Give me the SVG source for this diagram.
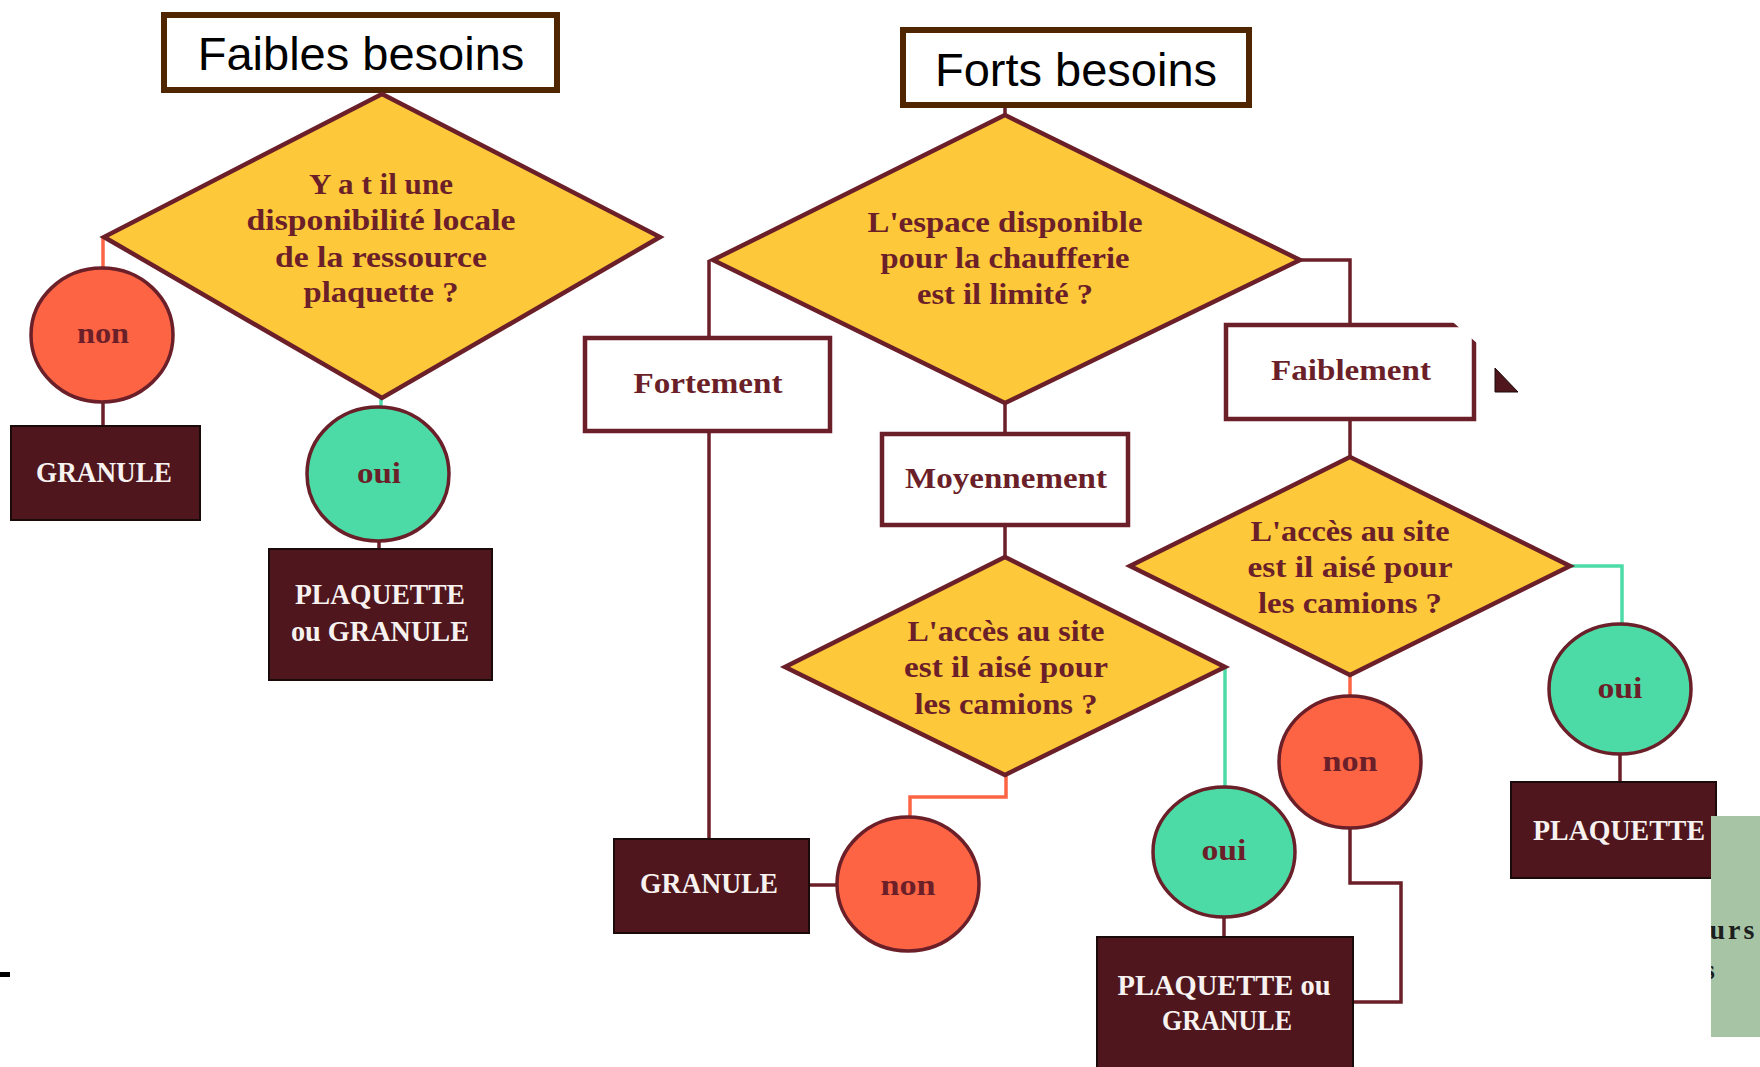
<svg xmlns="http://www.w3.org/2000/svg" width="1760" height="1067" viewBox="0 0 1760 1067">
<style>
.dia{fill:#fdc83a;stroke:#6b1f29;stroke-width:4.5;stroke-linejoin:miter}
.lbl{fill:#fff;stroke:#6b1f29;stroke-width:4.5}
.res{fill:#4f161d;stroke:#1a0a0a;stroke-width:2}
.non{fill:#fd6444;stroke:#6b1f29;stroke-width:3.5}
.oui{fill:#4cdba6;stroke:#6b1f29;stroke-width:3.5}
.hdr{fill:#fff;stroke:#4f2600;stroke-width:6}
.t{font-family:"Liberation Serif","Times New Roman",serif;font-weight:bold;font-size:29px;fill:#6b1f29;text-anchor:middle}
.l{font-size:30px}
.w{fill:#f7f2f0;font-size:30px}
.h{font-family:"Liberation Sans",Arial,sans-serif;font-size:47px;fill:#000;text-anchor:middle}
.c{fill:none;stroke:#6b1f29;stroke-width:3.5}
.co{stroke:#fd6444}
.cg{stroke:#4cdba6}
</style>
<defs>
<clipPath id="gclip"><rect x="1711" y="816" width="60" height="221"/></clipPath>
</defs>
<rect width="1760" height="1067" fill="#fff"/>

<g id="connectors">
<path class="c" d="M1005 108 V115"/>
<path class="c co" d="M103 237 V268"/>
<path class="c cg" d="M381 398 V407"/>
<path class="c" d="M103 402 V426"/>
<path class="c" d="M379 541 V549"/>
<path class="c" d="M709 260 V338"/>
<path class="c" d="M709 433 V839"/>
<path class="c" d="M1005 403 V434"/>
<path class="c" d="M1005 527 V557"/>
<path class="c" d="M1300 260 H1350 V325"/>
<path class="c" d="M1350 421 V457"/>
<path class="c co" d="M1006 775 V797 H910 V817"/>
<path class="c cg" d="M1225 667 V787"/>
<path class="c" d="M809 885 H837"/>
<path class="c" d="M1224 917 V937"/>
<path class="c cg" d="M1570 566 H1622 V624"/>
<path class="c co" d="M1350 675 V696"/>
<path class="c" d="M1620 754 V782"/>
<path class="c" d="M1350 828 V883 H1401 V1002 H1353"/>
</g>

<g id="faibles-besoins">
<rect class="hdr" x="164" y="15" width="393" height="75"/>
<text class="h" x="361" y="70">Faibles besoins</text>
</g>
<g id="forts-besoins">
<rect class="hdr" x="903" y="30" width="346" height="75"/>
<text class="h" x="1076" y="86">Forts besoins</text>
</g>

<g id="q-ressource">
<polygon class="dia" points="382,94 660,237 382,398 104,237"/>
<text class="t" x="381" y="194" textLength="144" lengthAdjust="spacingAndGlyphs">Y a t il une</text>
<text class="t" x="381" y="230" textLength="269" lengthAdjust="spacingAndGlyphs">disponibilité locale</text>
<text class="t" x="381" y="267" textLength="212" lengthAdjust="spacingAndGlyphs">de la ressource</text>
<text class="t" x="381" y="302" textLength="155" lengthAdjust="spacingAndGlyphs">plaquette ?</text>
</g>

<g id="non-1">
<ellipse class="non" cx="102" cy="335" rx="71" ry="67"/>
<text class="t l" x="103" y="343" textLength="52" lengthAdjust="spacingAndGlyphs">non</text>
</g>
<g id="oui-1">
<ellipse class="oui" cx="378" cy="474" rx="71" ry="67"/>
<text class="t l" x="379" y="483" textLength="44" lengthAdjust="spacingAndGlyphs">oui</text>
</g>
<g id="granule-1">
<rect class="res" x="11" y="426" width="189" height="94"/>
<text class="t w" x="104" y="482" textLength="136" lengthAdjust="spacingAndGlyphs">GRANULE</text>
</g>
<g id="plaquette-granule-1">
<rect class="res" x="269" y="549" width="223" height="131"/>
<text class="t w" x="380" y="604" textLength="170" lengthAdjust="spacingAndGlyphs">PLAQUETTE</text>
<text class="t w" x="380" y="641" textLength="178" lengthAdjust="spacingAndGlyphs">ou GRANULE</text>
</g>

<g id="q-espace">
<polygon class="dia" points="1005,115 1300,260 1005,403 713,260"/>
<text class="t" x="1005" y="232" textLength="275" lengthAdjust="spacingAndGlyphs">L'espace disponible</text>
<text class="t" x="1005" y="268" textLength="249" lengthAdjust="spacingAndGlyphs">pour la chaufferie</text>
<text class="t" x="1005" y="304" textLength="176" lengthAdjust="spacingAndGlyphs">est il limité ?</text>
</g>

<g id="fortement">
<rect class="lbl" x="585" y="338" width="245" height="93"/>
<text class="t l" x="708" y="393" textLength="149" lengthAdjust="spacingAndGlyphs">Fortement</text>
</g>
<g id="moyennement">
<rect class="lbl" x="882" y="434" width="246" height="91"/>
<text class="t l" x="1006" y="488" textLength="202" lengthAdjust="spacingAndGlyphs">Moyennement</text>
</g>
<g id="faiblement">
<rect class="lbl" x="1226" y="325" width="248" height="94"/>
<polygon points="1447,317 1486,317 1486,351" fill="#fff"/>
<text class="t l" x="1351" y="380" textLength="160" lengthAdjust="spacingAndGlyphs">Faiblement</text>
</g>

<g id="q-acces-moyen">
<polygon class="dia" points="1005,557 1225,667 1005,775 785,667"/>
<text class="t" x="1006" y="641" textLength="197" lengthAdjust="spacingAndGlyphs">L'accès au site</text>
<text class="t" x="1006" y="677" textLength="204" lengthAdjust="spacingAndGlyphs">est il aisé pour</text>
<text class="t" x="1006" y="714" textLength="183" lengthAdjust="spacingAndGlyphs">les camions ?</text>
</g>

<g id="q-acces-faible">
<polygon class="dia" points="1350,457 1570,566 1350,675 1130,566"/>
<text class="t" x="1350" y="541" textLength="199" lengthAdjust="spacingAndGlyphs">L'accès au site</text>
<text class="t" x="1350" y="577" textLength="205" lengthAdjust="spacingAndGlyphs">est il aisé pour</text>
<text class="t" x="1350" y="613" textLength="184" lengthAdjust="spacingAndGlyphs">les camions ?</text>
</g>

<g id="granule-2">
<rect class="res" x="614" y="839" width="195" height="94"/>
<text class="t w" x="709" y="893" textLength="138" lengthAdjust="spacingAndGlyphs">GRANULE</text>
</g>
<g id="non-2">
<ellipse class="non" cx="908" cy="884" rx="71" ry="67"/>
<text class="t l" x="908" y="895" textLength="55" lengthAdjust="spacingAndGlyphs">non</text>
</g>
<g id="oui-2">
<ellipse class="oui" cx="1224" cy="852" rx="71" ry="65"/>
<text class="t l" x="1224" y="860" textLength="45" lengthAdjust="spacingAndGlyphs">oui</text>
</g>
<g id="plaquette-granule-2">
<rect class="res" x="1097" y="937" width="256" height="140"/>
<text class="t w" x="1224" y="995" textLength="213" lengthAdjust="spacingAndGlyphs">PLAQUETTE ou</text>
<text class="t w" x="1227" y="1030" textLength="130" lengthAdjust="spacingAndGlyphs">GRANULE</text>
</g>
<g id="non-3">
<ellipse class="non" cx="1350" cy="762" rx="71" ry="66"/>
<text class="t l" x="1350" y="771" textLength="55" lengthAdjust="spacingAndGlyphs">non</text>
</g>
<g id="oui-3">
<ellipse class="oui" cx="1620" cy="689" rx="71" ry="65"/>
<text class="t l" x="1620" y="698" textLength="45" lengthAdjust="spacingAndGlyphs">oui</text>
</g>
<g id="plaquette-3">
<rect class="res" x="1511" y="782" width="205" height="96"/>
<text class="t w" x="1619" y="840" textLength="172" lengthAdjust="spacingAndGlyphs">PLAQUETTE</text>
</g>

<polygon points="1495,368 1495,392 1518,392" fill="#4f161d" stroke="#1a0a0a" stroke-width="1"/>
<rect x="0" y="972" width="10" height="5" fill="#000"/>

<g id="side-panel">
<rect x="1711" y="816" width="60" height="221" fill="#a7c5a5"/>
<g clip-path="url(#gclip)" font-family="Liberation Serif, serif" font-weight="bold" font-size="28" fill="#1e1e1e">
<text x="1694" y="939" letter-spacing="3">eurs</text>
<text x="1704" y="979">s</text>
</g>
</g>
</svg>
